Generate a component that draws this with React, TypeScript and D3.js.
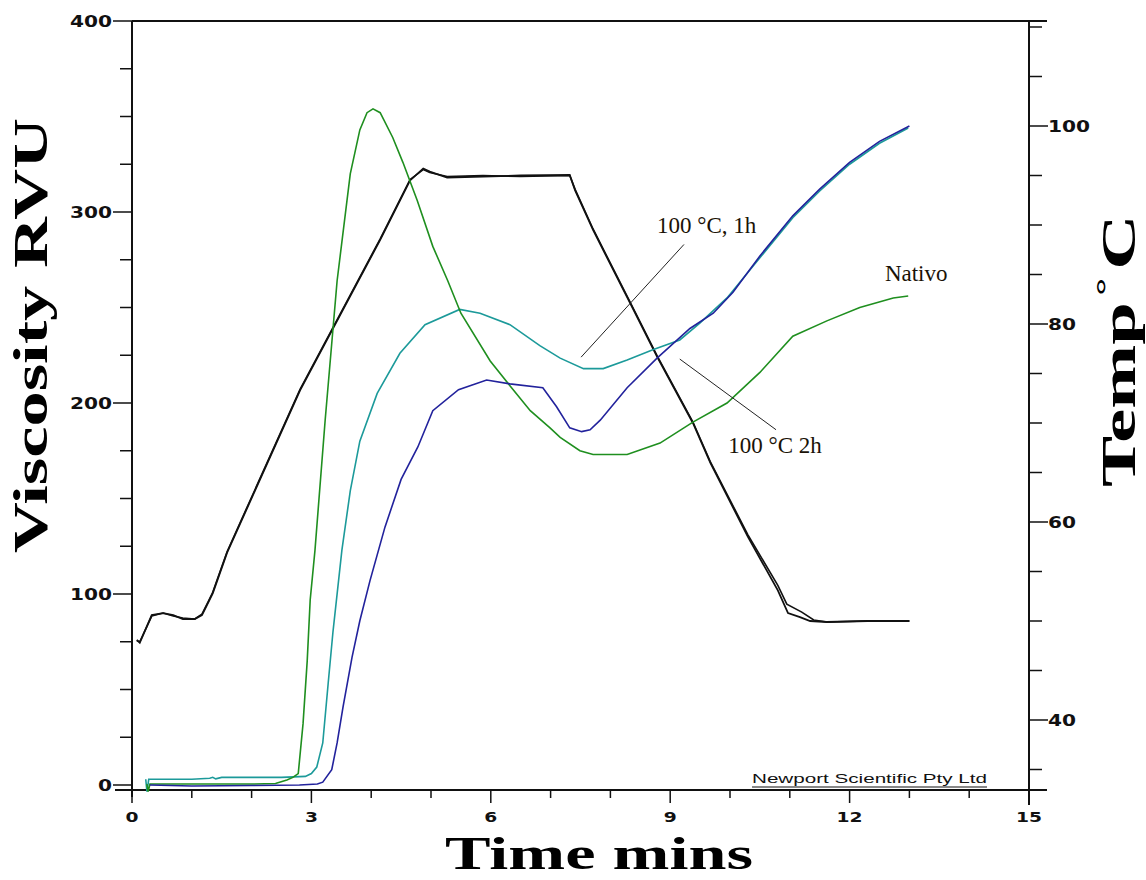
import React from 'react';
import * as d3 from 'd3';

// time (min), viscosity (RVU)
const nativo: [number, number][] = [
  [0.25, 0.5], [0.27, -3.5], [0.3, 0.5], [1.0, 0.5], [2.0, 0.5], [2.4, 0.8], [2.59, 2.6], [2.69, 4],
  [2.78, 6], [2.86, 32], [2.93, 65], [2.98, 97], [3.06, 123], [3.23, 191], [3.43, 264], [3.65, 320],
  [3.81, 343], [3.93, 352], [4.03, 354], [4.15, 352], [4.36, 339], [4.53, 326], [4.77, 306], [5.03, 282],
  [5.28, 264], [5.5, 247], [5.99, 222], [6.32, 209], [6.66, 196], [6.99, 187], [7.16, 182], [7.49, 175],
  [7.71, 173], [8.28, 173], [8.83, 179], [9.38, 190], [9.95, 200], [10.5, 216], [11.05, 235], [11.62, 243],
  [12.17, 250], [12.73, 255], [12.98, 256],
];

const heat1h: [number, number][] = [
  [0.23, 3], [0.25, -3.5], [0.28, 3], [1.0, 3], [1.3, 3.5], [1.35, 4], [1.4, 3.2], [1.5, 4], [2.0, 4],
  [2.5, 4], [2.9, 4.5], [3.0, 6], [3.09, 9.4], [3.19, 22], [3.28, 53], [3.36, 80], [3.51, 123],
  [3.65, 154], [3.81, 180], [4.1, 205], [4.48, 226], [4.9, 241], [5.48, 249], [5.82, 247], [6.32, 241],
  [6.82, 230], [7.16, 223.5], [7.55, 218], [7.88, 218], [8.28, 222.5], [8.72, 228], [9.16, 233],
  [9.5, 242], [9.95, 255], [10.5, 276], [11.05, 297], [11.5, 311], [12.0, 325], [12.5, 336], [12.98, 344],
];

const heat2h: [number, number][] = [
  [0.3, 0], [1.0, -0.5], [2.0, -0.3], [2.8, 0], [3.1, 0.5], [3.19, 1.5], [3.34, 8], [3.43, 22],
  [3.53, 41], [3.68, 67], [3.81, 86], [3.98, 107], [4.23, 135], [4.5, 160], [4.78, 177], [5.03, 196],
  [5.46, 207], [5.93, 212], [6.32, 210], [6.87, 208], [7.1, 198], [7.32, 187], [7.52, 185], [7.66, 186],
  [7.83, 191], [8.28, 208], [8.78, 223.5], [9.33, 239], [9.72, 247], [10.05, 258], [10.5, 277],
  [11.05, 298], [11.5, 312], [12.0, 326], [12.5, 337], [13.0, 345],
];

// time (min), temperature (°C)
const tempA: [number, number][] = [
  [0.08, 48.1], [0.13, 47.8], [0.33, 50.6], [0.52, 50.8], [0.69, 50.6], [0.85, 50.2], [1.05, 50.2],
  [1.17, 50.6], [1.27, 51.8], [1.35, 52.8], [1.59, 56.9], [2.81, 73.3], [4.15, 88.5], [4.65, 94.5],
  [4.87, 95.7], [4.98, 95.4], [5.27, 94.8], [5.87, 94.9], [6.5, 95.0], [7.32, 95.05], [7.41, 93.5],
  [7.71, 89.5], [8.33, 82.1], [8.78, 76.7], [9.38, 70.0], [9.67, 66.0], [10.3, 58.5], [10.8, 53.1],
  [10.97, 50.8], [11.17, 50.4], [11.34, 50.0], [11.62, 49.9], [12.3, 50.0], [13.0, 50.0],
];
const tempB: [number, number][] = [
  [0.08, 48.0], [0.13, 47.9], [0.33, 50.5], [0.52, 50.8], [0.69, 50.5], [0.85, 50.3], [1.05, 50.2],
  [1.17, 50.7], [1.27, 51.9], [1.35, 52.9], [1.59, 57.0], [2.81, 73.4], [4.15, 88.6], [4.65, 94.6],
  [4.87, 95.6], [4.98, 95.3], [5.27, 94.9], [5.87, 95.0], [6.5, 94.9], [7.32, 95.0], [7.41, 93.6],
  [7.71, 89.6], [8.33, 82.2], [8.78, 76.8], [9.38, 70.1], [9.67, 66.1], [10.3, 58.7], [10.8, 53.6],
  [10.95, 51.7], [11.2, 50.9], [11.4, 50.1], [11.62, 49.9], [12.3, 50.0], [13.0, 50.0],
];

const xTicks = d3.range(0, 16, 1);
const xLabels = [0, 3, 6, 9, 12, 15];
const vTicks = d3.range(0, 401, 25);
const vLabels = [0, 100, 200, 300, 400];
const tTicks = d3.range(35, 111, 5);
const tLabels = [40, 60, 80, 100];

// annotations: text anchored at (t, v); optional leader line [t1, v1, t2, v2]
const notes: { label: string; t: number; v: number; line?: [number, number, number, number] }[] = [
  { label: '100 °C, 1h', t: 8.78, v: 289, line: [7.51, 224, 9.23, 283] },
  { label: 'Nativo', t: 12.59, v: 264 },
  { label: '100 °C 2h', t: 9.97, v: 174, line: [9.16, 223, 10.77, 186] },
];

const W = 1146;
const H = 880;
const left = 132;
const right = 1029;
const top = 21;
const bottom = 790;

const tickFont = 'DejaVu Sans, Verdana, sans-serif';
const serif = '"Liberation Serif", "Times New Roman", serif';

export default function App() {
  const x = d3.scaleLinear().domain([0, 15]).range([left, right]);
  const yV = d3.scaleLinear().domain([0, 400]).range([785, top]);
  const yT = d3.scaleLinear().domain([40, 100]).range([720, 126]);

  const lineV = d3.line<[number, number]>().x(d => x(d[0])).y(d => yV(d[1]));
  const lineT = d3.line<[number, number]>().x(d => x(d[0])).y(d => yT(d[1]));

  const series = [
    { data: heat1h, color: '#1c9a9a' },
    { data: nativo, color: '#1f8f1f' },
    { data: heat2h, color: '#22229c' },
  ];

  return (
    <>
      <style>{'body{margin:0}'}</style>
      <svg width={W} height={H} style={{ display: 'block', background: '#fff' }}>
        {/* frame */}
        <line x1={left} x2={1047} y1={top} y2={top} stroke="#111" strokeWidth={2} />
        <line x1={115} x2={1047} y1={bottom} y2={bottom} stroke="#111" strokeWidth={2} />
        <line x1={left} x2={left} y1={top} y2={797} stroke="#111" strokeWidth={2} />
        <line x1={right} x2={right} y1={top} y2={805} stroke="#111" strokeWidth={2} />

        {/* x ticks */}
        {xTicks.map(t => {
          const major = xLabels.includes(t);
          return (
            <line key={'xt' + t} x1={x(t)} x2={x(t)} y1={bottom} y2={bottom + (major ? 13 : 8)} stroke="#111" strokeWidth={1.5} />
          );
        })}
        {xLabels.map(t => {
          const s = String(t);
          const w = 13 * s.length;
          return (
            <text key={'xl' + t} x={x(t) - w / 2} y={822} fontFamily={tickFont} fontWeight="bold" fontSize={14}
              textLength={w} lengthAdjust="spacingAndGlyphs" fill="#111">{s}</text>
          );
        })}

        {/* left ticks */}
        {vTicks.map(v => {
          const major = vLabels.includes(v);
          return (
            <line key={'vt' + v} x1={major ? 113 : 120} x2={left} y1={yV(v)} y2={yV(v)} stroke="#111" strokeWidth={1.5} />
          );
        })}
        {vLabels.map(v => {
          const s = String(v);
          const w = 14 * s.length;
          return (
            <text key={'vl' + v} x={112 - w} y={yV(v) + 5.5} fontFamily={tickFont} fontWeight="bold" fontSize={15}
              textLength={w} lengthAdjust="spacingAndGlyphs" fill="#111">{s}</text>
          );
        })}

        {/* right ticks */}
        {tTicks.map(t => {
          const major = tLabels.includes(t);
          return (
            <line key={'tt' + t} x1={right} x2={right + (major ? 19 : 13)} y1={yT(t)} y2={yT(t)} stroke="#111" strokeWidth={1.5} />
          );
        })}
        {tLabels.map(t => {
          const s = String(t);
          const w = 14 * s.length;
          return (
            <text key={'tl' + t} x={1048} y={yT(t) + 5.5} fontFamily={tickFont} fontWeight="bold" fontSize={15}
              textLength={w} lengthAdjust="spacingAndGlyphs" fill="#111">{s}</text>
          );
        })}

        {/* temperature */}
        <path d={lineT(tempB) || ''} fill="none" stroke="#111" strokeWidth={1.6} />
        <path d={lineT(tempA) || ''} fill="none" stroke="#111" strokeWidth={1.8} />

        {/* viscosity */}
        {series.map((s, i) => (
          <path key={'s' + i} d={lineV(s.data) || ''} fill="none" stroke={s.color} strokeWidth={1.6} />
        ))}

        {/* annotations */}
        {notes.map(n => (
          <g key={n.label}>
            {n.line && (
              <line x1={x(n.line[0])} y1={yV(n.line[1])} x2={x(n.line[2])} y2={yV(n.line[3])} stroke="#222" strokeWidth={1} />
            )}
            <text x={x(n.t)} y={yV(n.v)} fontFamily={serif} fontSize={23} fill="#1a1206">{n.label}</text>
          </g>
        ))}

        {/* credit */}
        <text x={752} y={783} fontFamily='"Liberation Sans", Arial, sans-serif' fontSize={13} fill="#111"
          textLength={235} lengthAdjust="spacingAndGlyphs">Newport Scientific Pty Ltd</text>
        <line x1={752} x2={987} y1={787} y2={787} stroke="#111" strokeWidth={1} />

        {/* axis titles */}
        <text x={445} y={869} fontFamily={serif} fontWeight="bold" fontSize={46} fill="#000"
          textLength={308} lengthAdjust="spacingAndGlyphs">Time mins</text>
        <text transform="translate(47,553) rotate(-90)" fontFamily={serif} fontWeight="bold" fontSize={48} fill="#000"
          textLength={435} lengthAdjust="spacingAndGlyphs">Viscosity RVU</text>
        <text transform="translate(1135,487) rotate(-90) scale(1.6,1)" fontFamily={serif} fontWeight="bold" fontSize={48} fill="#000">
          Temp
          <tspan dx={4} dy={-20} fontSize={28} fontWeight="bold">°</tspan>
          <tspan dx={5} dy={20}>C</tspan>
        </text>
      </svg>
    </>
  );
}
